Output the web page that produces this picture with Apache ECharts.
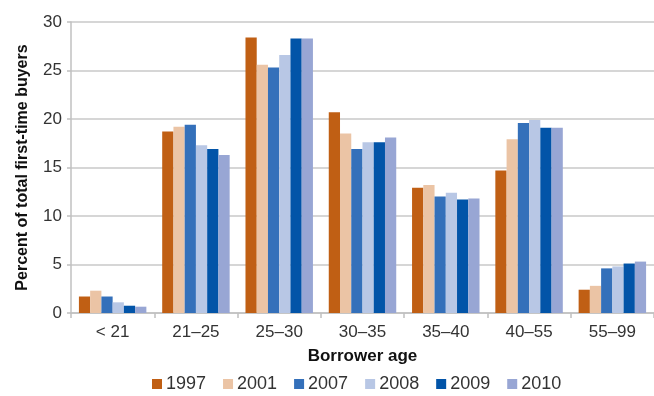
<!DOCTYPE html>
<html>
<head>
<meta charset="utf-8">
<script src="https://cdn.jsdelivr.net/npm/echarts@6/dist/echarts.min.js"></script>
<style>
  html, body { margin: 0; padding: 0; background: #fff; }
  #chart { width: 654px; height: 396px; }
</style>
</head>
<body>
<div id="chart"></div>
<script>
// data
const ageGroups = ["< 21", "21–25", "25–30", "30–35", "35–40", "40–55", "55–99"];
const years = ["1997", "2001", "2007", "2008", "2009", "2010"];
const v1997 = [1.7, 18.7, 28.4, 20.7, 12.9, 14.7, 2.4];
const v2001 = [2.3, 19.2, 25.6, 18.5, 13.2, 17.9, 2.8];
const v2007 = [1.7, 19.4, 25.3, 16.9, 12.0, 19.6, 4.6];
const v2008 = [1.1, 17.3, 26.6, 17.6, 12.4, 19.9, 4.8];
const v2009 = [0.75, 16.9, 28.3, 17.6, 11.7, 19.1, 5.1];
const v2010 = [0.65, 16.3, 28.3, 18.1, 11.8, 19.1, 5.3];
const yTicks = [0, 5, 10, 15, 20, 25, 30];

const colors = ["#c05f14", "#ebc4a5", "#3470ba", "#b8c7e5", "#0254a8", "#98a6d4"];
const allValues = [v1997, v2001, v2007, v2008, v2009, v2010];

const font = "'Liberation Sans', Arial, Helvetica, sans-serif";
const textColor = "#333";

let chart = echarts.init(document.getElementById("chart"));

chart.setOption({
  animation: false,
  color: colors,
  textStyle: { fontFamily: font },
  grid: { left: 71, right: -2, top: 22, bottom: 83 },
  legend: {
    data: years,
    bottom: 3,
    left: 152,
    padding: 0,
    itemWidth: 10,
    itemHeight: 10,
    itemGap: 17,
    icon: "rect",
    textStyle: { fontSize: 18, color: textColor, fontFamily: font, padding: [0, 0, 0, -1] },
  },
  xAxis: {
    type: "category",
    data: ageGroups,
    name: "Borrower age",
    nameLocation: "middle",
    nameGap: 35,
    nameTextStyle: { fontSize: 17, fontWeight: "bold", color: "#111", fontFamily: font },
    axisLine: { lineStyle: { color: "#c0c0c0", width: 1.5 } },
    axisTick: { show: true, length: 5, lineStyle: { color: "#c0c0c0", width: 1.5 } },
    axisLabel: { fontSize: 17, color: textColor, margin: 11, interval: 0 },
  },
  yAxis: {
    type: "value",
    min: yTicks[0],
    max: yTicks[yTicks.length - 1],
    interval: 5,
    name: "Percent of total first-time buyers",
    nameLocation: "middle",
    nameGap: 40,
    nameTextStyle: { fontSize: 16, fontWeight: "bold", color: "#111", fontFamily: font },
    axisLine: { show: true, lineStyle: { color: "#c0c0c0", width: 1.5 } },
    axisTick: { show: true, length: 4, lineStyle: { color: "#c0c0c0", width: 1.5 } },
    axisLabel: { fontSize: 17, color: textColor, margin: 9 },
    splitLine: { lineStyle: { color: "#c8c8c8", width: 1.5 } },
  },
  series: years.map((y, i) => ({
    name: y,
    type: "bar",
    data: allValues[i],
    barGap: "0%",
    barCategoryGap: "19%",
  })),
});
</script>
</body>
</html>
